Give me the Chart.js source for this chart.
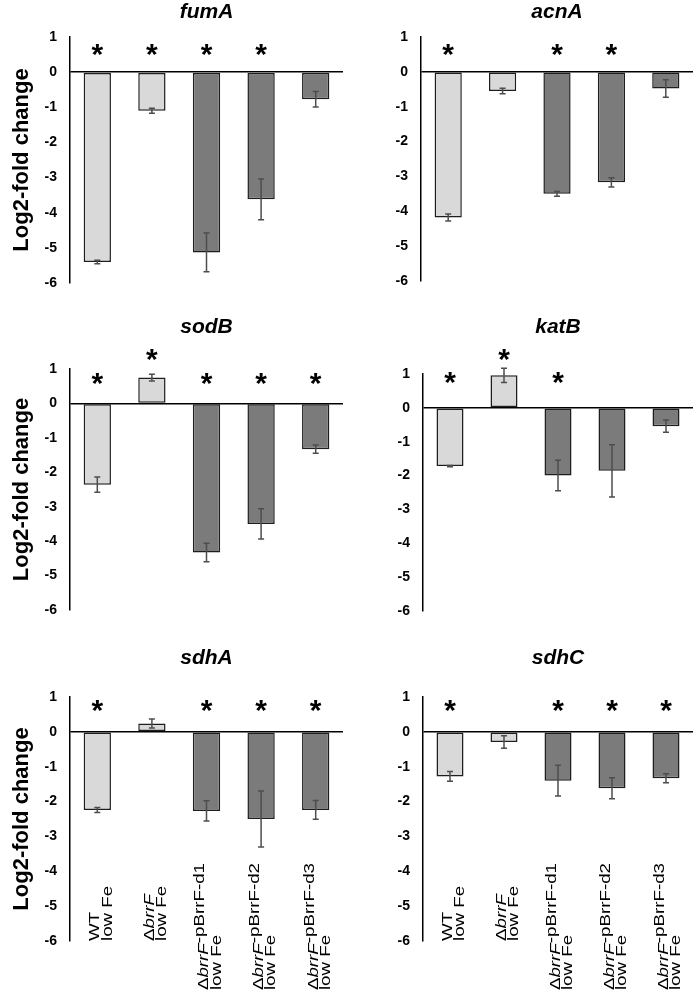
<!DOCTYPE html>
<html>
<head>
<meta charset="utf-8">
<script src="https://cdn.jsdelivr.net/npm/chart.js@4.4.1/dist/chart.umd.min.js"></script>
<style>
  body { margin: 0; background: #fff; }
  #wrap { position: relative; width: 698px; height: 996px; overflow: hidden; }
  .panel { position: absolute; }
</style>
</head>
<body>
<div id="wrap"></div>
<script>
// Categories and tick labels
const groupLabels = ['WT\nlow Fe', 'ΔbrrF\nlow Fe', 'ΔbrrF-pBrrF-d1\nlow Fe', 'ΔbrrF-pBrrF-d2\nlow Fe', 'ΔbrrF-pBrrF-d3\nlow Fe'];
const yTicks = [1, 0, -1, -2, -3, -4, -5, -6];

// Log2-fold change, error (+/-) and asterisk heights (null = no asterisk)
const fumA = [-5.40, -1.10, -5.13, -3.62, -0.77];
const fumAErr = [0.05, 0.07, 0.55, 0.58, 0.22];
const fumAStars = [0.73, 0.73, 0.73, 0.73, null];

const acnA = [-4.18, -0.55, -3.50, -3.17, -0.48];
const acnAErr = [0.10, 0.08, 0.07, 0.13, 0.25];
const acnAStars = [0.73, null, 0.73, 0.73, null];

const sodB = [-2.36, 0.75, -4.33, -3.50, -1.33];
const sodBErr = [0.22, 0.10, 0.27, 0.44, 0.12];
const sodBStars = [0.80, 1.50, 0.80, 0.80, 0.80];

const katB = [-1.72, 0.96, -2.00, -1.86, -0.54];
const katBErr = [0.02, 0.21, 0.45, 0.77, 0.18];
const katBStars = [0.96, 1.65, 0.96, null, null];

const sdhA = [-2.24, 0.24, -2.27, -2.50, -2.24];
const sdhAErr = [0.07, 0.13, 0.29, 0.80, 0.27];
const sdhAStars = [0.82, null, 0.82, 0.82, 0.82];

const sdhC = [-1.28, -0.29, -1.40, -1.62, -1.33];
const sdhCErr = [0.14, 0.18, 0.44, 0.30, 0.13];
const sdhCStars = [0.84, null, 0.84, 0.84, 0.84];

const barColors = ['#d9d9d9', '#d9d9d9', '#7b7b7b', '#7b7b7b', '#7b7b7b'];
const FONT = '"Liberation Sans", Arial, sans-serif';
const wrap = document.getElementById('wrap');

function drawXLabels(chart) {
  const ctx = chart.ctx, x = chart.scales.x, bottom = chart.chartArea.bottom;
  const font = '15px ' + FONT;
  const ital = 'italic 15px ' + FONT;
  const stretch = 1.25, gap = 12.5;
  chart.data.labels.forEach((lab, i) => {
    const lines = lab.split('\n');
    const segs = [];
    if (lines[0].startsWith('Δ')) {
      const rest = lines[0].slice(5);
      segs.push(['Δ', font, 0], ['brrF', ital, 0]);
      if (rest) segs.push([rest, font, -4]);
    } else {
      segs.push([lines[0], font, 0]);
    }
    ctx.save();
    let len = 0;
    segs.forEach(s => { ctx.font = s[1]; len += ctx.measureText(s[0]).width; });
    ctx.font = font;
    len = Math.max(len, ctx.measureText(lines[1]).width) * stretch;
    const startY = bottom + Math.max(0, len - 78);
    const cx = x.getPixelForValue(i) + 4;
    ctx.translate(cx - gap / 2, startY);
    ctx.rotate(-Math.PI / 2);
    ctx.scale(stretch, 1);
    ctx.fillStyle = '#000';
    ctx.textAlign = 'left';
    ctx.textBaseline = 'middle';
    let px = 0;
    segs.forEach(s => {
      ctx.font = s[1];
      ctx.fillText(s[0], px, s[2]);
      px += ctx.measureText(s[0]).width;
    });
    ctx.font = font;
    ctx.fillText(lines[1], 0, gap);
    ctx.restore();
  });
}

const panelPlugin = {
  id: 'panel',
  afterDatasetsDraw(chart, args, opts) {
    const ctx = chart.ctx, x = chart.scales.x, y = chart.scales.y, area = chart.chartArea;
    const vals = chart.data.datasets[0].data;
    ctx.save();
    // error bars
    ctx.strokeStyle = '#4d4d4d';
    ctx.lineWidth = 1.5;
    opts.err.forEach((e, i) => {
      const cx = x.getPixelForValue(i);
      const y1 = y.getPixelForValue(vals[i] + e);
      const y2 = y.getPixelForValue(vals[i] - e);
      ctx.beginPath();
      ctx.moveTo(cx, y1); ctx.lineTo(cx, y2);
      ctx.moveTo(cx - 3, y1); ctx.lineTo(cx + 3, y1);
      ctx.moveTo(cx - 3, y2); ctx.lineTo(cx + 3, y2);
      ctx.stroke();
    });
    // significance asterisks
    ctx.fillStyle = '#000';
    ctx.textAlign = 'center';
    ctx.textBaseline = 'alphabetic';
    const starSize = 30;
    ctx.font = 'bold ' + starSize + 'px ' + FONT;
    opts.stars.forEach((s, i) => {
      if (s === null) return;
      ctx.fillText('*', x.getPixelForValue(i), y.getPixelForValue(s) + 0.57 * starSize);
    });
    // gene title
    ctx.font = 'italic bold 21px ' + FONT;
    ctx.textBaseline = 'middle';
    ctx.fillText(opts.title, (area.left + area.right) / 2, opts.titleY);
    // y axis title
    if (opts.yTitle) {
      ctx.save();
      ctx.translate(22, (area.top + area.bottom) / 2);
      ctx.rotate(-Math.PI / 2);
      ctx.font = 'bold 22px ' + FONT;
      ctx.fillText(opts.yTitle, 0, 0);
      ctx.restore();
    }
    ctx.restore();
    if (opts.xLabels) drawXLabels(chart);
  }
};

function makePanel(p, title, values, errs, stars) {
  const div = document.createElement('div');
  div.className = 'panel';
  div.style.left = p.left + 'px';
  div.style.top = p.top + 'px';
  div.style.width = p.w + 'px';
  div.style.height = p.h + 'px';
  const cv = document.createElement('canvas');
  div.appendChild(cv);
  wrap.appendChild(div);

  new Chart(cv, {
    type: 'bar',
    data: {
      labels: groupLabels,
      datasets: [{
        data: values,
        backgroundColor: barColors,
        borderColor: '#1e1e1e',
        borderWidth: 1.5,
        borderSkipped: false,
        barPercentage: 1,
        categoryPercentage: 0.5
      }]
    },
    options: {
      responsive: true,
      maintainAspectRatio: false,
      animation: false,
      layout: { padding: { top: p.plotTop, bottom: p.h - p.plotBottom, right: p.w - 343, left: 0 } },
      plugins: {
        legend: { display: false },
        tooltip: { enabled: false },
        panel: {
          err: errs, stars: stars, title: title, titleY: p.titleY,
          yTitle: p.left === 0 ? 'Log2-fold change' : null,
          xLabels: p.xLabels
        }
      },
      scales: {
        x: { display: false },
        y: {
          min: -6,
          max: 1,
          afterBuildTicks: s => { s.ticks = yTicks.map(v => ({ value: v })); },
          afterFit: s => { s.width = p.axisX; },
          ticks: { color: '#000', padding: 13, font: { family: FONT, size: 14, weight: 'bold' } },
          grid: {
            drawTicks: false,
            lineWidth: 1.5,
            color: c => (c.tick && c.tick.value === 0 ? '#000' : 'rgba(0,0,0,0)')
          },
          border: { color: '#000', width: 1.5 }
        }
      }
    },
    plugins: [panelPlugin]
  });
}

makePanel({ left: 0, top: 0, w: 349, h: 310, axisX: 70, plotTop: 37, plotBottom: 283, titleY: 12 }, 'fumA', fumA, fumAErr, fumAStars);
makePanel({ left: 350, top: 0, w: 348, h: 310, axisX: 71, plotTop: 37, plotBottom: 281, titleY: 12 }, 'acnA', acnA, acnAErr, acnAStars);
makePanel({ left: 0, top: 310, w: 349, h: 335, axisX: 70, plotTop: 59, plotBottom: 300, titleY: 17 }, 'sodB', sodB, sodBErr, sodBStars);
makePanel({ left: 350, top: 310, w: 348, h: 335, axisX: 73, plotTop: 64, plotBottom: 301, titleY: 17 }, 'katB', katB, katBErr, katBStars);
makePanel({ left: 0, top: 620, w: 349, h: 376, axisX: 70, plotTop: 77, plotBottom: 321, titleY: 38, xLabels: true }, 'sdhA', sdhA, sdhAErr, sdhAStars);
makePanel({ left: 350, top: 620, w: 348, h: 376, axisX: 73, plotTop: 77, plotBottom: 321, titleY: 38, xLabels: true }, 'sdhC', sdhC, sdhCErr, sdhCStars);
</script>
</body>
</html>
